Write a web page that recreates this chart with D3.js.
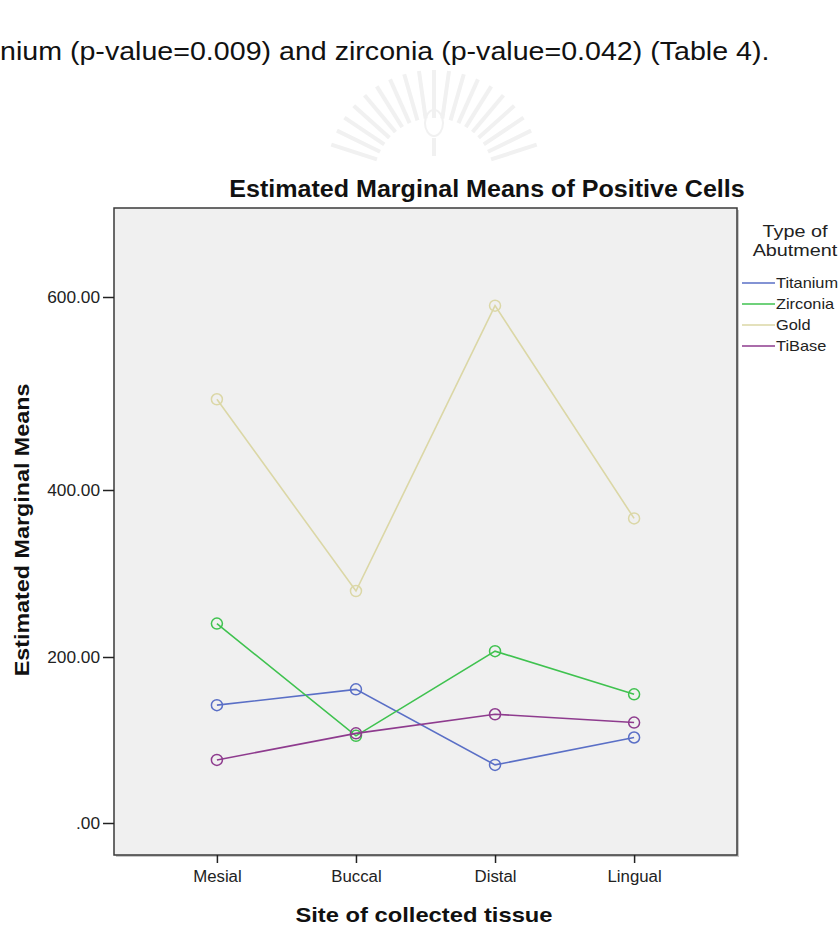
<!DOCTYPE html>
<html>
<head>
<meta charset="utf-8">
<script src="https://cdn.jsdelivr.net/npm/d3@7"></script>
<style>
  body { margin: 0; background: #fff; }
  svg { display: block; font-family: "Liberation Sans", Arial, sans-serif; }
</style>
</head>
<body>
<svg id="chart" width="840" height="927"></svg>
<script>
// data
const sites = ['Mesial', 'Buccal', 'Distal', 'Lingual'];
const abutments = ['Titanium', 'Zirconia', 'Gold', 'TiBase'];
const titanium = [142, 161, 70, 103];
const zirconia = [240, 105, 207, 155];
const gold = [494, 279, 591, 366];
const tibase = [76, 108, 131, 121];
const yTicks = [0, 200, 400, 600];

const colors = ['#5a6fc6', '#3fc24f', '#dbd7a6', '#8e3b8e'];
const seriesValues = [titanium, zirconia, gold, tibase];

const svg = d3.select('#chart');
const frame = { left: 114, right: 737, top: 208, bottom: 855 };

// the scan is a bit wider than normal fonts, so stretch text a little
function stretch(sel, factor) {
  sel.each(function () {
    const w = this.getComputedTextLength();
    d3.select(this).attr('textLength', w * factor).attr('lengthAdjust', 'spacingAndGlyphs');
  });
  return sel;
}

// faint watermark emblem
const wm = svg.append('g').attr('transform', 'translate(434,178)')
  .attr('stroke', '#f1f1f1').attr('fill', 'none');
d3.range(-72, 73, 8).forEach(a => {
  const r = a * Math.PI / 180;
  wm.append('line')
    .attr('x1', Math.sin(r) * 60).attr('y1', -Math.cos(r) * 60)
    .attr('x2', Math.sin(r) * 108).attr('y2', -Math.cos(r) * 108)
    .attr('stroke-width', 4);
});
wm.append('ellipse').attr('cx', 0).attr('cy', -55).attr('rx', 9).attr('ry', 13).attr('stroke-width', 2);
wm.append('line').attr('x1', 0).attr('y1', -40).attr('x2', 0).attr('y2', -22).attr('stroke-width', 4);

// page text above the chart
stretch(svg.append('text').attr('x', 0).attr('y', 60)
  .style('font-size', '26px').attr('fill', '#111')
  .text('nium (p-value=0.009) and zirconia (p-value=0.042) (Table 4).'), 1.1);

// y scale: the scanned axis is not evenly spaced, so map tick by tick
const y = d3.scaleLinear()
  .domain([-40, 0, 200, 400, 600, 693])
  .range([856, 823, 657, 490, 297, 208]);

const x = d3.scalePoint()
  .domain(sites)
  .range([frame.left, frame.right])
  .padding(0.74);

// plot area
svg.append('rect')
  .attr('x', frame.left + 2).attr('y', frame.top + 2)
  .attr('width', frame.right - frame.left).attr('height', frame.bottom - frame.top)
  .attr('fill', '#c8c8c8');
svg.append('rect')
  .attr('x', frame.left).attr('y', frame.top)
  .attr('width', frame.right - frame.left).attr('height', frame.bottom - frame.top)
  .attr('fill', '#f0f0f0').attr('stroke', '#3a3a3a').attr('stroke-width', 1.5);

// axes
const yAxis = svg.append('g')
  .attr('transform', `translate(${frame.left},0)`)
  .call(d3.axisLeft(y).tickValues(yTicks).tickSize(11).tickPadding(3)
    .tickFormat(d => d === 0 ? '.00' : d3.format('.2f')(d)));
yAxis.select('.domain').remove();
yAxis.selectAll('line').attr('stroke', '#222').attr('stroke-width', 1.5);
stretch(yAxis.selectAll('text').style('font-size', '16px')
  .style('font-family', 'Liberation Sans, Arial').attr('fill', '#222'), 1.08);

const xAxis = svg.append('g')
  .attr('transform', `translate(0,${frame.bottom})`)
  .call(d3.axisBottom(x).tickSize(8).tickPadding(8));
xAxis.select('.domain').remove();
xAxis.selectAll('line').attr('stroke', '#222').attr('stroke-width', 1.5);
stretch(xAxis.selectAll('text').style('font-size', '16px')
  .style('font-family', 'Liberation Sans, Arial').attr('fill', '#222'), 1.05);

// lines and hollow markers
const line = d3.line()
  .x((d, i) => x(sites[i]))
  .y(d => y(d));

seriesValues.forEach((vals, k) => {
  svg.append('path')
    .datum(vals)
    .attr('fill', 'none')
    .attr('stroke', colors[k])
    .attr('stroke-width', 1.6)
    .attr('d', line);
  svg.selectAll(null)
    .data(vals)
    .enter().append('circle')
    .attr('cx', (d, i) => x(sites[i]))
    .attr('cy', d => y(d))
    .attr('r', 5.5)
    .attr('fill', 'none')
    .attr('stroke', colors[k])
    .attr('stroke-width', 1.5);
});

// titles
stretch(svg.append('text').attr('x', 487).attr('y', 197).attr('text-anchor', 'middle')
  .style('font-size', '23px').style('font-weight', 'bold').attr('fill', '#111')
  .text('Estimated Marginal Means of Positive Cells'), 1.09);
stretch(svg.append('text').attr('x', 424).attr('y', 922).attr('text-anchor', 'middle')
  .style('font-size', '21px').style('font-weight', 'bold').attr('fill', '#111')
  .text('Site of collected tissue'), 1.13);
stretch(svg.append('text')
  .attr('transform', 'translate(29,530) rotate(-90)').attr('text-anchor', 'middle')
  .style('font-size', '21px').style('font-weight', 'bold').attr('fill', '#111')
  .text('Estimated Marginal Means'), 1.11);

// legend
const legend = svg.append('g');
['Type of', 'Abutment'].forEach((t, i) => {
  stretch(legend.append('text').attr('x', 795).attr('y', 237 + i * 19).attr('text-anchor', 'middle')
    .style('font-size', '16.5px').attr('fill', '#222').text(t), 1.2);
});
abutments.forEach((name, k) => {
  const ly = 283 + k * 21;
  legend.append('line').attr('x1', 742).attr('x2', 775).attr('y1', ly).attr('y2', ly)
    .attr('stroke', colors[k]).attr('stroke-width', 1.6);
  stretch(legend.append('text').attr('x', 776).attr('y', ly + 5)
    .style('font-size', '15px').attr('fill', '#222').text(name), 1.09);
});
</script>
</body>
</html>
